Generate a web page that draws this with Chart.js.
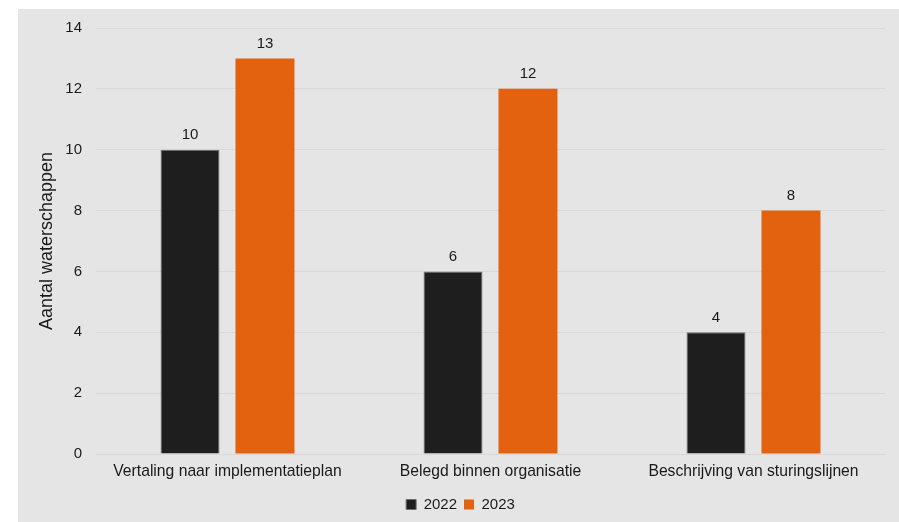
<!DOCTYPE html>
<html>
<head>
<meta charset="utf-8">
<script src="https://cdn.jsdelivr.net/npm/chart.js@4.4.1/dist/chart.umd.min.js"></script>
<style>
    html, body { margin: 0; padding: 0; background: #fff; }
    #wrap { position: absolute; left: 18px; top: 9px; width: 881px; height: 513px; background: #e5e5e5; }
</style>
</head>
<body>
<div id="wrap"><canvas id="chart"></canvas></div>
<script>
// ===== data =====
const categories = ['Vertaling naar implementatieplan', 'Belegd binnen organisatie', 'Beschrijving van sturingslijnen'];
const values2022 = [10, 6, 4];
const values2023 = [13, 12, 8];
const yTicks = [0, 2, 4, 6, 8, 10, 12, 14];

const FONT = '"Liberation Sans", Arial, sans-serif';

// simple value labels above bars
const barLabels = {
    id: 'barLabels',
    afterDatasetsDraw(chart) {
        const ctx = chart.ctx;
        ctx.save();
        ctx.font = '15px ' + FONT;
        ctx.fillStyle = '#1a1a1a';
        ctx.textAlign = 'center';
        ctx.textBaseline = 'bottom';
        chart.data.datasets.forEach((ds, i) => {
            chart.getDatasetMeta(i).data.forEach((bar, j) => {
                ctx.fillText(ds.data[j], bar.x, bar.y - 7);
            });
        });
        ctx.restore();
    }
};

new Chart(document.getElementById('chart'), {
    type: 'bar',
    data: {
        labels: categories,
        datasets: [
            { label: '2022', data: values2022, backgroundColor: '#1e1e1e', borderColor: '#6e6e6e', borderWidth: 1,
              categoryPercentage: 0.57, barPercentage: 0.787 },
            { label: '2023', data: values2023, backgroundColor: '#e3620f', borderWidth: 0,
              categoryPercentage: 0.57, barPercentage: 0.787 }
        ]
    },
    options: {
        responsive: true, maintainAspectRatio: false, animation: false,
        layout: { padding: { top: 19, right: 14, left: 18, bottom: 0 } },
        plugins: {
            legend: {
                position: 'bottom',
                labels: { color: '#1a1a1a', boxWidth: 10, boxHeight: 10, padding: 7,
                          font: { family: FONT, size: 15 } }
            },
            tooltip: { enabled: false }
        },
        scales: {
            x: {
                afterFit: axis => { axis.height = 36; },
                grid: { display: false },
                border: { display: true, color: '#d9d9d9', width: 1 },
                ticks: { color: '#1a1a1a', padding: 0, maxRotation: 0, autoSkip: false,
                         font: { family: FONT, size: 15.7 } }
            },
            y: {
                min: 0, max: 14,
                afterBuildTicks: axis => { axis.ticks = yTicks.map(v => ({ value: v })); },
                afterFit: axis => { axis.width = 60; axis.paddingTop = 0; axis.paddingBottom = 0; },
                grid: { color: '#d9d9d9', drawTicks: false },
                border: { display: false },
                ticks: { color: '#1a1a1a', padding: 14, font: { family: FONT, size: 15 } },
                title: { display: true, text: 'Aantal waterschappen', color: '#1a1a1a', padding: 0,
                         font: { family: FONT, size: 18 } }
            }
        }
    },
    plugins: [barLabels]
});
</script>
</body>
</html>
